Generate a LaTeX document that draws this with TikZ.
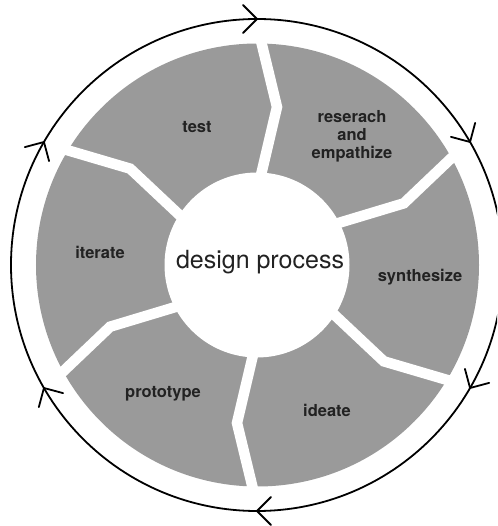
\documentclass[tikz,border=0pt]{standalone}
\usepackage{fontspec}
\setmainfont{TeX Gyre Heros}
\definecolor{seggray}{RGB}{154,154,154}
\definecolor{txt}{RGB}{34,34,34}
\begin{document}
\begin{tikzpicture}[x=1pt,y=1pt,
  gapline/.style={draw=white,line width=10.5pt,line join=miter,line cap=butt},
  ringline/.style={draw=black,line width=1.8pt},
  chev/.style={draw=black,line width=1.8pt,line join=miter,line cap=round},
  seglabel/.style={font=\fontsize{16.5}{18}\selectfont\bfseries,text=txt,align=center,inner sep=0pt},
  centerlabel/.style={font=\fontsize{25}{28}\selectfont,text=txt,inner sep=0pt}]
\useasboundingbox (-257,-261) rectangle (240,265);
\clip (-257,-261) rectangle (240,265);
% gray ring
\fill[seggray] (0.5,0) circle[radius=221.5];
% gaps between segments
\foreach \a in {90,30,-30,-90,-150,150}{
  \draw[gapline,rotate=\a-90] (-0.7,70) -- (20,158) -- (2.1,232);
}
% inner hub
\node[circle,fill=white,minimum size=185pt,inner sep=0pt] (hub) at (0,0) {};
\node[centerlabel] (dp) at (3,3) {design process};
% outer cycle
\draw[ringline] (0,0) circle[radius=246];
\foreach \a in {90,30,-30,-90,-150,150}{
  \draw[chev,rotate=\a-90] (-14,260) -- (0,246) -- (-14,232);
}
% labels
\node[seglabel] (test) at (-60,138) {test};
\node[seglabel] (research) at (95,129) {reserach\\and\\empathize};
\node[seglabel] (synth) at (163,-12) {synthesize};
\node[seglabel] (ideate) at (70,-145) {ideate};
\node[seglabel] (proto) at (-94,-129) {prototype};
\node[seglabel] (iterate) at (-157,13) {iterate};
\end{tikzpicture}
\end{document}
